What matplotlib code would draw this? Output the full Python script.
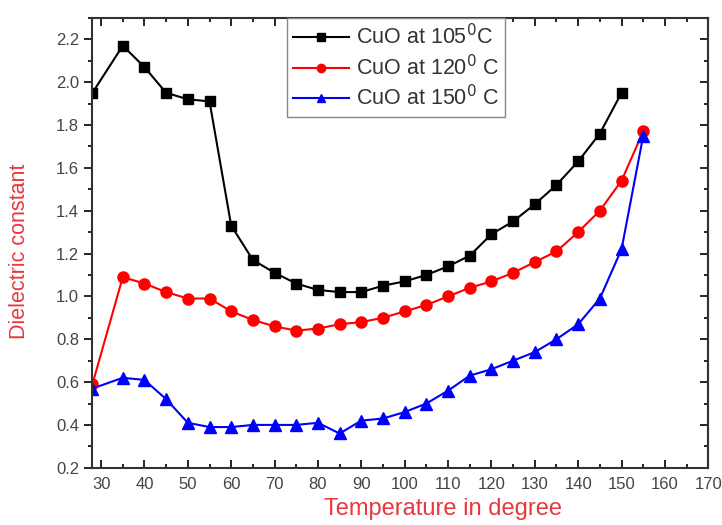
import numpy as np
import matplotlib.pyplot as plt
from matplotlib.ticker import MultipleLocator

plt.rcParams['font.family'] = ['Liberation Sans', 'DejaVu Sans']

# Temperatures (degree)
temp_105 = [28, 35, 40, 45, 50, 55, 60, 65, 70, 75, 80, 85, 90, 95, 100,
            105, 110, 115, 120, 125, 130, 135, 140, 145, 150]
temp_all = temp_105 + [155]

# Dielectric constant values
eps_105 = [1.95, 2.17, 2.07, 1.95, 1.92, 1.91, 1.33, 1.17, 1.11, 1.06, 1.03,
           1.02, 1.02, 1.05, 1.07, 1.10, 1.14, 1.19, 1.29, 1.35, 1.43, 1.52,
           1.63, 1.76, 1.95]
eps_120 = [0.59, 1.09, 1.06, 1.02, 0.99, 0.99, 0.93, 0.89, 0.86, 0.84, 0.85,
           0.87, 0.88, 0.90, 0.93, 0.96, 1.00, 1.04, 1.07, 1.11, 1.16, 1.21,
           1.30, 1.40, 1.54, 1.77]
eps_150 = [0.57, 0.62, 0.61, 0.52, 0.41, 0.39, 0.39, 0.40, 0.40, 0.40, 0.41,
           0.36, 0.42, 0.43, 0.46, 0.50, 0.56, 0.63, 0.66, 0.70, 0.74, 0.80,
           0.87, 0.99, 1.22, 1.75]

fig = plt.figure(figsize=(7.22, 5.25), dpi=100)
ax = fig.add_axes([0.128, 0.109, 0.853, 0.857])

ax.plot(temp_105, eps_105, color='black', marker='s', markersize=7,
        linewidth=1.5, label=r'CuO at 105$^0$C')
ax.plot(temp_all, eps_120, color='red', marker='o', markersize=8,
        linewidth=1.5, label=r'CuO at 120$^0$ C')
ax.plot(temp_all, eps_150, color='blue', marker='^', markersize=8,
        linewidth=1.5, label=r'CuO at 150$^0$ C')

ax.set_xlim(28, 170)
ax.set_ylim(0.2, 2.3)
ax.set_xticks(np.arange(30, 171, 10))
ax.set_yticks(np.arange(0.2, 2.21, 0.2))
ax.xaxis.set_minor_locator(MultipleLocator(5))
ax.yaxis.set_minor_locator(MultipleLocator(0.1))
ax.tick_params(axis='x', which='both', direction='in', top=True,
               labelsize=12, labelcolor='#444444', width=1.2, pad=7)
ax.tick_params(axis='y', which='both', direction='out', labelsize=12,
               labelcolor='#444444', width=1.2)
ax.tick_params(which='major', length=6)
ax.tick_params(which='minor', length=3)
ax.yaxis.set_major_formatter(plt.FormatStrFormatter('%.1f'))

# right axis ticks pointing inward
ax2 = ax.secondary_yaxis('right')
ax2.set_yticks(np.arange(0.2, 2.21, 0.2))
ax2.yaxis.set_minor_locator(MultipleLocator(0.1))
ax2.tick_params(which='both', direction='in', labelright=False, width=1.2)
ax2.tick_params(which='major', length=6)
ax2.tick_params(which='minor', length=3)

for s in ax.spines.values():
    s.set_linewidth(1.5)
    s.set_color('#333333')
ax2.spines['right'].set_linewidth(1.5)
ax2.spines['right'].set_color('#333333')

ax.set_xlabel('Temperature in degree', color='#e8383d', fontsize=17)
ax.set_ylabel('Dielectric constant', color='#e8383d', fontsize=15.5)
ax.xaxis.set_label_coords(0.57, -0.068)
ax.yaxis.set_label_coords(-0.102, 0.48)

leg = ax.legend(loc='upper left', bbox_to_anchor=(0.316, 1.0),
                borderaxespad=0, fontsize=15.5, fancybox=False,
                edgecolor='#888888', handlelength=2.6, framealpha=1,
                labelspacing=0.25, handletextpad=0.3, borderpad=0.3,
                markerscale=0.75)
for t in leg.get_texts():
    t.set_color('#333333')

plt.savefig('out.png', dpi=100)
